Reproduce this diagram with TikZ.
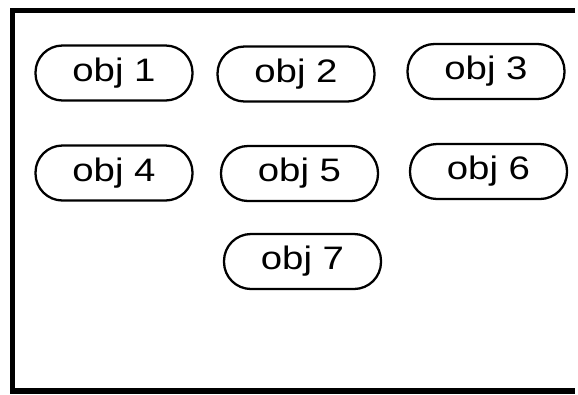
\documentclass[tikz,border=0pt]{standalone}
\usepackage{fontspec}
\setmainfont{Liberation Sans}[FakeStretch=1.18]
\tikzset{objbox/.style={draw,line width=1.3pt,rounded corners=.54cm,minimum width=3.14cm,minimum height=1.1cm,inner sep=0pt,font=\fontsize{18.5}{22}\selectfont}}
\begin{document}
\begin{tikzpicture}
\useasboundingbox (0,0) rectangle (11.56,-7.88);
\draw[line width=2.9pt] (11.5,-.21) -- (.25,-.21) -- (.25,-7.82) -- (11.5,-7.82);
\node[objbox] (o1) at (2.28,-1.46) {obj 1};
\node[objbox] (o2) at (5.92,-1.48) {obj 2};
\node[objbox] (o3) at (9.72,-1.43) {obj 3};
\node[objbox] (o4) at (2.28,-3.46) {obj 4};
\node[objbox] (o5) at (5.99,-3.47) {obj 5};
\node[objbox] (o6) at (9.77,-3.43) {obj 6};
\node[objbox] (o7) at (6.05,-5.23) {obj 7};
\end{tikzpicture}
\end{document}
